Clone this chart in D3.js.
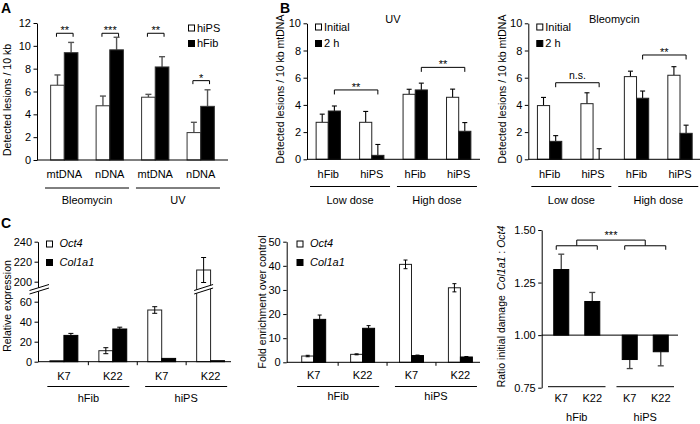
<!DOCTYPE html>
<html><head><meta charset="utf-8">
<script src="https://cdn.jsdelivr.net/npm/d3@7"></script>
<style>
body{margin:0;background:#fff}
svg{display:block}
text{font-family:'Liberation Sans',Arial,Helvetica,sans-serif;fill:#000}
</style>
</head><body>
<svg id="fig" width="700" height="424"></svg>
<script>
// ---------------- DATA ----------------
// Panel A
const aCategories = ["mtDNA", "nDNA", "mtDNA", "nDNA"];
const aTreatments = ["Bleomycin", "UV"];
const aSeries = ["hiPS", "hFib"];
const aHiPS = [6.55, 4.75, 5.5, 2.4];
const aHiPSErr = [0.9, 0.85, 0.25, 0.9];
const aHFib = [9.4, 9.65, 8.15, 4.7];
const aHFibErr = [0.9, 1.1, 0.9, 1.45];
const aSig = ["**", "***", "**", "*"];
const aTicks = [0, 2, 4, 6, 8, 10, 12];

// Panel B
const bCells = ["hFib", "hiPS", "hFib", "hiPS"];
const bDoses = ["Low dose", "High dose"];
const bSeries = ["Initial", "2 h"];
const uvInitial = [2.72, 2.72, 4.78, 4.56];
const uvInitialErr = [0.6, 0.8, 0.37, 0.6];
const uv2h = [3.55, 0.29, 5.1, 2.06];
const uv2hErr = [0.37, 0.8, 0.5, 0.64];
const uvSig = ["**", "**"];
const bleoInitial = [3.95, 4.09, 6.08, 6.18];
const bleoInitialErr = [0.6, 0.8, 0.4, 0.63];
const bleo2h = [1.32, 0, 4.49, 1.91];
const bleo2hErr = [0.42, 0.78, 0.53, 0.6];
const bleoSig = ["n.s.", "**"];
const bTicks = [0, 2, 4, 6, 8, 10];

// Panel C
const cClones = ["K7", "K22", "K7", "K22"];
const cCells = ["hFib", "hiPS"];
const cGenes = ["Oct4", "Col1a1"];
const exprOct4 = [1, 11, 51.7, 211.7];
const exprOct4Err = [0, 3, 3.3, 12.5];
const exprCol1a1 = [26.3, 32.7, 3.3, 1];
const exprCol1a1Err = [2, 1.8, 0, 0];
const exprTicks = [0, 20, 40, 60, 200, 220, 240];
const chipOct4 = [2.6, 3.3, 40.6, 30.9];
const chipOct4Err = [0.3, 0.2, 1.8, 1.7];
const chipCol1a1 = [17.8, 14.1, 2.8, 2.2];
const chipCol1a1Err = [1.8, 1.1, 0.2, 0.2];
const chipTicks = [0, 10, 20, 30, 40, 50];
const ratioClones = ["K7", "K22"];
const ratioValues = [1.312, 1.16, 0.884, 0.921];
const ratioErr = [0.073, 0.043, 0.043, 0.067];
const ratioTicks = [0.75, 1.00, 1.25, 1.50];
const ratioSig = "***";

// ---------------- DRAWING ----------------
const svg = d3.select("#fig");
svg.append("rect").attr("width", 700).attr("height", 424).attr("fill", "#fff");
const FONT = "'Liberation Sans', Arial, Helvetica, sans-serif";

function text(x, y, s, o = {}) {
  return svg.append("text").attr("x", x).attr("y", y)
    .attr("font-size", o.size || 11)
    .attr("text-anchor", o.anchor || "middle")
    .attr("font-weight", o.weight || "normal")
    .attr("font-style", o.style || "normal")
    .text(s);
}
function line(x1, y1, x2, y2, color = "#000", w = 1) {
  return svg.append("line").attr("x1", x1).attr("y1", y1).attr("x2", x2).attr("y2", y2)
    .attr("stroke", color).attr("stroke-width", w);
}
function yAxis(scale, x, ticks, fmt) {
  const g = svg.append("g").attr("transform", `translate(${x},0)`)
    .call(d3.axisLeft(scale).tickValues(ticks).tickSize(3.5).tickSizeOuter(0)
      .tickPadding(2.5).tickFormat(fmt || d3.format("d")));
  g.attr("font-family", FONT).attr("font-size", 11);
  g.selectAll("path,line").attr("stroke", "#000");
  g.selectAll("text").attr("fill", "#000");
  return g;
}
function yLabel(x, y, s, size = 10.5) {
  return svg.append("text").attr("transform", `translate(${x},${y}) rotate(-90)`)
    .attr("text-anchor", "middle").attr("font-size", size).text(s);
}
function rect(x, y0, y1, w, fill, stroke = "#222") {
  return svg.append("rect").attr("x", x).attr("y", Math.min(y0, y1))
    .attr("width", w).attr("height", Math.abs(y1 - y0))
    .attr("fill", fill).attr("stroke", stroke).attr("stroke-width", 1);
}
function errUp(cx, yFrom, yTo, cap, color, w = 1.2) {
  line(cx, yFrom, cx, yTo, color, w);
  line(cx - cap / 2, yTo, cx + cap / 2, yTo, color, w);
}
function bracket(x0, x1, y, tick, label, size = 11, gap = 1) {
  svg.append("path").attr("d", `M${x0},${y + tick}V${y}H${x1}V${y + tick}`)
    .attr("fill", "none").attr("stroke", "#000").attr("stroke-width", 1);
  if (label) text((x0 + x1) / 2, y + gap, label, { size });
}
function legendItem(x, y, fill) {
  svg.append("rect").attr("x", x).attr("y", y).attr("width", 6).attr("height", 6)
    .attr("fill", fill).attr("stroke", "#000").attr("stroke-width", 1);
}

// ======== PANEL A ========
{
  const y = d3.scaleLinear().domain([0, 12]).range([160, 23]);
  const x = d3.scaleBand().domain(d3.range(aCategories.length)).range([37, 228])
    .paddingInner(0.4).paddingOuter(0.3);
  const xi = d3.scaleBand().domain(aSeries).range([0, x.bandwidth()]);
  const vals = { hiPS: aHiPS, hFib: aHFib };
  const errs = { hiPS: aHiPSErr, hFib: aHFibErr };
  const fills = { hiPS: "#fff", hFib: "#000" };
  aCategories.forEach((c, i) => {
    aSeries.forEach(s => {
      const bx = x(i) + xi(s), cx = bx + xi.bandwidth() / 2;
      errUp(cx, y(vals[s][i]), y(vals[s][i] + errs[s][i]), 6, "#555", 1.4);
      rect(bx, y(0), y(vals[s][i]), xi.bandwidth(), fills[s], "#333");
    });
    const level = i < 3 ? 11.1 : 6.95;
    const c0 = x(i) + xi("hiPS") + xi.bandwidth() / 2 - 1;
    const c1 = x(i) + xi("hFib") + xi.bandwidth() / 2 + 2;
    bracket(c0, c1, y(level), 3.5, aSig[i], 11, 1);
    text(x(i) + x.bandwidth() / 2, 178, c);
  });
  line(37, y(0), 228, y(0));
  yAxis(y, 37, aTicks);
  aTreatments.forEach((t, k) => {
    const c = (x(2 * k) + x(2 * k + 1) + x.bandwidth()) / 2;
    line(c - 42, 188, c + 42, 188);
    text(c, 204, t);
  });
  legendItem(188.5, 25, "#fff");
  text(197, 31.5, aSeries[0], { anchor: "start" });
  legendItem(188.5, 40.5, "#000");
  text(197, 47, aSeries[1], { anchor: "start" });
  yLabel(10.5, 100, "Detected lesions / 10 kb");
  text(1, 13, "A", { size: 14, weight: "bold", anchor: "start" });
}

// ======== PANEL B ========
function panelB(x0, title, init, initErr, h2, h2Err, sig, sigLevels, labelX) {
  const y = d3.scaleLinear().domain([0, 10]).range([159.3, 23.3]);
  const x = d3.scaleBand().domain(d3.range(bCells.length)).range([x0, x0 + 173])
    .paddingInner(0.44).paddingOuter(0.21);
  const xi = d3.scaleBand().domain(bSeries).range([0, x.bandwidth()]);
  const vals = [init, h2], errs = [initErr, h2Err], fills = ["#fff", "#000"];
  bCells.forEach((c, i) => {
    bSeries.forEach((s, k) => {
      const bx = x(i) + xi(s), cx = bx + xi.bandwidth() / 2;
      errUp(cx, y(vals[k][i]), y(vals[k][i] + errs[k][i]), 5, "#000", 1.1);
      if (vals[k][i] > 0) rect(bx, y(0), y(vals[k][i]), xi.bandwidth(), fills[k], "#222");
    });
    text(x(i) + x.bandwidth() / 2, 178, c);
  });
  line(x0, y(0), Math.min(x0 + 173, 700), y(0));
  yAxis(y, x0, bTicks);
  bDoses.forEach((d, k) => {
    const c = (x(2 * k) + x(2 * k + 1) + x.bandwidth()) / 2;
    line(c - 40, 186.5, c + 40, 186.5);
    text(c, 204, d);
    const b0 = x(2 * k) + xi("2 h") + xi.bandwidth() / 2;
    const b1 = x(2 * k + 1) + xi("2 h") + xi.bandwidth() / 2;
    const ns = sig[k] === "n.s.";
    bracket(b0, b1, y(sigLevels[k]), 4.5, sig[k], ns ? 10.5 : 11, ns ? -4 : 1);
  });
  text(x0 + 86, 23, title);
  legendItem(x0 + 8.5, 24, "#fff");
  text(x0 + 17, 30.5, bSeries[0], { anchor: "start" });
  legendItem(x0 + 8.5, 40.5, "#000");
  text(x0 + 17, 47, bSeries[1], { anchor: "start" });
  yLabel(labelX, 89, "Detected lesions / 10 kb mtDNA");
}
panelB(307, "UV", uvInitial, uvInitialErr, uv2h, uv2hErr, uvSig, [5.1, 6.76], 284);
panelB(528.3, "Bleomycin", bleoInitial, bleoInitialErr, bleo2h, bleo2hErr, bleoSig, [5.63, 7.67], 506);
text(280, 13, "B", { size: 14, weight: "bold", anchor: "start" });

// ======== PANEL C ========
text(1, 228, "C", { size: 14, weight: "bold", anchor: "start" });

function legendGenes(x, y0) {
  legendItem(x, y0, "#fff");
  text(x + 13, y0 + 6, cGenes[0], { anchor: "start", style: "italic" });
  legendItem(x, y0 + 18.5, "#000");
  text(x + 13, y0 + 24.5, cGenes[1], { anchor: "start", style: "italic" });
}

function panelCBars(x, y, oct, octErr, col, colErr, capW) {
  const xi = d3.scaleBand().domain(cGenes).range([0, x.bandwidth()]);
  cClones.forEach((c, i) => {
    const bo = x(i) + xi("Oct4"), bc = x(i) + xi("Col1a1");
    rect(bo, y(0), y(oct[i]), xi.bandwidth(), "#fff", "#222");
    rect(bc, y(0), y(col[i]), xi.bandwidth(), "#000", "#000");
    if (octErr[i] > 0) {
      const cx = bo + xi.bandwidth() / 2;
      line(cx, y(oct[i] - octErr[i]), cx, y(oct[i] + octErr[i]), "#000", 1);
      line(cx - capW / 2, y(oct[i] + octErr[i]), cx + capW / 2, y(oct[i] + octErr[i]), "#000", 1);
      line(cx - capW / 2, y(oct[i] - octErr[i]), cx + capW / 2, y(oct[i] - octErr[i]), "#000", 1);
    }
    if (colErr[i] > 0) {
      const cx = bc + xi.bandwidth() / 2;
      errUp(cx, y(col[i]), y(col[i] + colErr[i]), capW, "#000", 1);
    }
  });
  return xi;
}
function cXAxis(x, x0, x1, y0, labelY, lineY, groupY) {
  line(x0, y0, x1, y0);
  for (let i = 0; i < cClones.length - 1; i++) {
    const m = (x(i) + x.bandwidth() + x(i + 1)) / 2;
    line(m, y0, m, y0 + 3.5);
  }
  cClones.forEach((c, i) => text(x(i) + x.bandwidth() / 2, labelY, c));
  cCells.forEach((g, k) => {
    const c = (x(2 * k) + x(2 * k + 1) + x.bandwidth()) / 2;
    line(c - 41, lineY, c + 41, lineY);
    text(c, groupY, g);
  });
}

// C left: relative expression, broken axis
{
  const y = d3.scaleLinear().domain([0, 70, 190, 240]).range([361.7, 291.7, 291.7, 241.7]);
  const x = d3.scaleBand().domain(d3.range(cClones.length)).range([38, 236.5])
    .paddingInner(0.43).paddingOuter(0.245);
  const xi = panelCBars(x, y, exprOct4, exprOct4Err, exprCol1a1, exprCol1a1Err, 5);
  yAxis(y, 38, exprTicks);
  cXAxis(x, 38, 231, y(0), 380, 386.5, 402);
  const brk = (xa, xb) => {
    svg.append("path").attr("d", `M${xa},294 L${xb},288 L${xb},284.5 L${xa},290.5 Z`)
      .attr("fill", "#fff").attr("stroke", "none");
    line(xa, 294, xb, 288);
    line(xa, 290.5, xb, 284.5);
  };
  brk(29.5, 49);
  const big = exprOct4.findIndex(v => v > 190);
  const bx = x(big) + xi("Oct4");
  brk(bx - 2.5, bx + xi.bandwidth() + 2.5);
  legendGenes(46.5, 241);
  yLabel(11, 306, "Relative expression");
}

// C middle: ChIP fold enrichment
{
  const y = d3.scaleLinear().domain([0, 50]).range([362.3, 241.7]);
  const x = d3.scaleBand().domain(d3.range(cClones.length)).range([286.7, 487.4])
    .paddingInner(0.51).paddingOuter(0.307);
  panelCBars(x, y, chipOct4, chipOct4Err, chipCol1a1, chipCol1a1Err, 4);
  yAxis(y, 286.7, chipTicks);
  cXAxis(x, 286.7, 480, y(0), 378.5, 386.5, 400);
  legendGenes(297, 241);
  yLabel(266, 302, "Fold enrichment over control");
}

// C right: ratio initial damage
{
  const y = d3.scaleLinear().domain([0.75, 1.5]).range([387.7, 230]);
  const xo = d3.scaleBand().domain(cCells).range([548, 674]).paddingInner(0.16);
  const xi = d3.scaleBand().domain(ratioClones).range([0, xo.bandwidth()])
    .paddingInner(0.516).paddingOuter(0.185);
  const bars = [];
  cCells.forEach((g, k) => ratioClones.forEach((c, j) => bars.push({ g, c, i: k * 2 + j })));
  bars.forEach(b => {
    const v = ratioValues[b.i], e = ratioErr[b.i];
    const bx = xo(b.g) + xi(b.c), cx = bx + xi.bandwidth() / 2;
    const tip = v >= 1 ? v + e : v - e;
    errUp(cx, y(v), y(tip), 6, "#444", 1.3);
    rect(bx, y(1), y(v), xi.bandwidth(), "#000", "#000");
    text(cx, 401.5, b.c);
  });
  line(541.7, y(1), 678, y(1));
  yAxis(y, 541.7, ratioTicks, d3.format(".2f"));
  const centers = [];
  cCells.forEach(g => {
    const g0 = xo(g), g1 = xo(g) + xo.bandwidth();
    line(g0, 386.7, g1, 386.7);
    text((g0 + g1) / 2, 421, g);
    const k0 = g0 + xi("K7") + xi.bandwidth() / 2 - 5;
    const k1 = g0 + xi("K22") + xi.bandwidth() / 2 + 5;
    bracket(k0, k1, y(1.425), 4, null);
    centers.push((k0 + k1) / 2);
  });
  bracket(centers[0], centers[1], y(1.452), 5.5, ratioSig, 11, -1.5);
  const lab = svg.append("text").attr("transform", `translate(505,306.5) rotate(-90)`)
    .attr("text-anchor", "middle").attr("font-size", 10.5);
  lab.append("tspan").text("Ratio initial damage\u2002");
  lab.append("tspan").attr("font-style", "italic").text("Col1a1");
  lab.append("tspan").text(" : ");
  lab.append("tspan").attr("font-style", "italic").text("Oct4");
}
</script>
</body></html>
